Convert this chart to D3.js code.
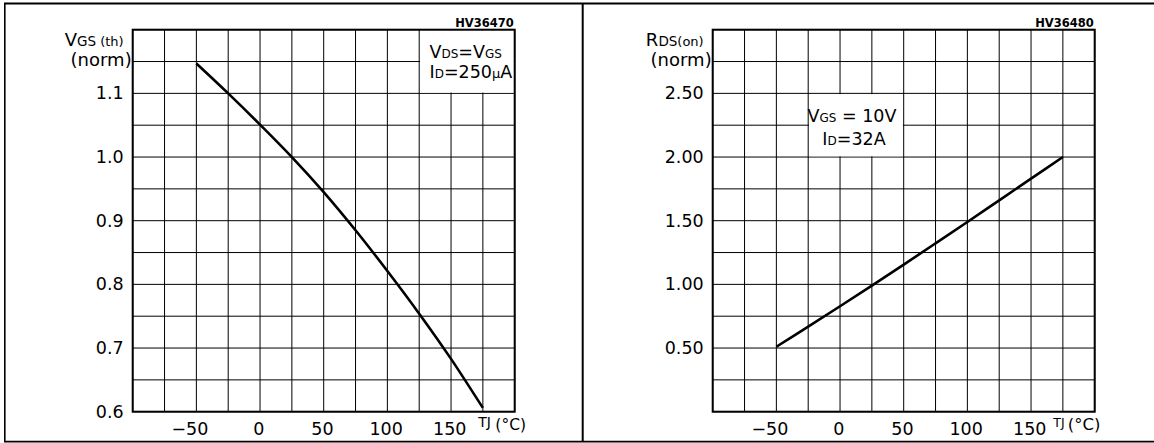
<!DOCTYPE html>
<html><head><meta charset="utf-8">
<script src="https://cdn.jsdelivr.net/npm/d3@7/dist/d3.min.js"></script>
<style>
html,body{margin:0;padding:0;background:#fff;}
svg{display:block;}
text{font-family:"DejaVu Sans",Verdana,sans-serif;fill:#000;}
</style></head>
<body>
<svg id="c" width="1154" height="443"></svg>
<script>
// ---- data ----
const tempDomain = [-100, 200];
const tempTicks = [-50, 0, 50, 100, 150];
const vgsDomain = [0.6, 1.2];
const vgsTicks = [0.6, 0.7, 0.8, 0.9, 1.0, 1.1];
const rdsDomain = [0, 3];
const rdsTicks = [0.5, 1.0, 1.5, 2.0, 2.5];
const vgsTemp   = [-50, -25, 0, 25, 50, 75, 100, 125, 150, 175];
const vgsValues = [1.147, 1.100, 1.051, 1.000, 0.945, 0.885, 0.821, 0.754, 0.683, 0.606];
const rdsTemp   = [-50, -25, 0, 25, 50, 75, 100, 125, 150, 175];
const rdsValues = [0.51, 0.668, 0.828, 0.99, 1.155, 1.322, 1.49, 1.66, 1.83, 2.0];
const leftCode = "HV36470";
const rightCode = "HV36480";

const svg = d3.select("#c");

// outer frame
svg.append("line").attr("x1",4).attr("x2",1154).attr("y1",3.6).attr("y2",3.6).attr("stroke","#000").attr("stroke-width",2);
svg.append("line").attr("x1",4.8).attr("x2",4.8).attr("y1",3).attr("y2",442).attr("stroke","#000").attr("stroke-width",1.6);
svg.append("line").attr("x1",4).attr("x2",1154).attr("y1",441.6).attr("y2",441.6).attr("stroke","#000").attr("stroke-width",1.6);
svg.append("line").attr("x1",582.7).attr("x2",582.7).attr("y1",3).attr("y2",442).attr("stroke","#000").attr("stroke-width",2);

function panel(o) {
  const g = svg.append("g");
  const x = d3.scaleLinear().domain(tempDomain).range([o.x0, o.x0 + 382]);
  const y = d3.scaleLinear().domain(o.yDomain).range([411.7, 29.7]);
  // grid
  const gx = d3.range(tempDomain[0], tempDomain[1] + 0.001, 25);
  const gy = d3.range(o.yDomain[0], o.yDomain[1] + 1e-6, o.yStep);
  g.selectAll("line.gx").data(gx).join("line").attr("class","gx")
    .attr("x1", d => x(d)).attr("x2", d => x(d)).attr("y1", y.range()[0]).attr("y2", y.range()[1])
    .attr("stroke","#000").attr("stroke-width",1);
  g.selectAll("line.gy").data(gy).join("line").attr("class","gy")
    .attr("y1", d => y(d)).attr("y2", d => y(d)).attr("x1", x.range()[0]).attr("x2", x.range()[1])
    .attr("stroke","#000").attr("stroke-width",1);
  // annotation box (hides grid)
  const bx0 = x(o.box[0]), bx1 = x(o.box[1]), by0 = y(o.box[3]), by1 = y(o.box[2]);
  g.append("rect").attr("x", bx0 + 0.8).attr("y", by0 + 0.8).attr("width", bx1 - bx0 - 1.6).attr("height", by1 - by0 - 1.6).attr("fill","#fff");
  // frame
  g.append("rect").attr("x", x.range()[0]).attr("y", y.range()[1]).attr("width", 382).attr("height", y.range()[0]-y.range()[1])
    .attr("fill","none").attr("stroke","#000").attr("stroke-width",2);
  // curve
  const line = d3.line().x(d => x(d[0])).y(d => y(d[1])).curve(d3.curveCatmullRom.alpha(0.5));
  g.append("path").datum(d3.zip(o.temps, o.values)).attr("d", line)
    .attr("fill","none").attr("stroke","#000").attr("stroke-width",2.6).attr("stroke-linejoin","round");
  // axes labels
  const ax = g.append("g").attr("transform", `translate(0,${y.range()[0]})`)
    .call(d3.axisBottom(x).tickValues(tempTicks).tickSize(0).tickPadding(11)
      .tickFormat(d => d < 0 ? "\u2212" + Math.abs(d) : String(d)));
  ax.select(".domain").remove();
  ax.selectAll("text").attr("font-family","DejaVu Sans").attr("font-size",17.5).attr("fill","#000")
    .attr("dx", d => d < 0 ? "-0.4em" : "-0.1em");
  const ay = g.append("g").attr("transform", `translate(${x.range()[0]},0)`)
    .call(d3.axisLeft(y).tickValues(o.yTicks).tickSize(0).tickPadding(9).tickFormat(d3.format(o.fmt)));
  ay.select(".domain").remove();
  ay.selectAll("text").attr("font-family","DejaVu Sans").attr("font-size",17.5).attr("fill","#000");
  // code label
  g.append("text").attr("x", x.range()[1] - 1).attr("y", 26.8).attr("text-anchor","end")
    .attr("font-size", 11.5).attr("font-weight","bold").text(o.code);
  // y title
  const t1 = g.append("text").attr("x", x.range()[0] - 9).attr("y", 46).attr("text-anchor","end");
  t1.append("tspan").attr("font-size",18).text(o.t1[0]);
  t1.append("tspan").attr("font-size",13.5).text(o.t1[1]);
  t1.append("tspan").attr("font-size",13).text(o.t1[2]);
  g.append("text").attr("x", x.range()[0] - 1).attr("y", 65.5).attr("text-anchor","end").attr("font-size",18).text("(norm)");
  // x title
  g.append("text").attr("x", x(175) + o.tjDx).attr("y", 427).attr("font-size",o.tjSize).text("TJ");
  g.append("text").attr("x", x(175) + o.cDx).attr("y", 429.5).attr("font-size",o.cSize).text("(°C)");
  return {x, y, g};
}

const L = panel({x0:132.7, yDomain: vgsDomain, yStep: 0.05, yTicks: vgsTicks, fmt: ".1f",
  temps: vgsTemp, values: vgsValues, box: [125, 200, 1.1, 1.2], code: leftCode, t1: ["V","GS"," (th)"],
  tjDx: -4.6, cDx: 12.5, tjSize: 14, cSize: 15.5});
const R = panel({x0:712.7, yDomain: rdsDomain, yStep: 0.25, yTicks: rdsTicks, fmt: ".2f",
  temps: rdsTemp, values: rdsValues, box: [-25, 50, 2.0, 2.5], code: rightCode, t1: ["R","DS","(on)"],
  tjDx: -9.5, cDx: 5, tjSize: 12.5, cSize: 16.5});

// annotations
function ann(g, x, y, anchor, parts) {
  const t = g.append("text").attr("x", x).attr("y", y).attr("text-anchor", anchor);
  parts.forEach(p => t.append("tspan").attr("font-size", p[1]).text(p[0]));
}
ann(L.g, 429.5, 57.5, "start", [["V",17.5],["DS",12],["=",17.5],["V",17.5],["GS",12]]);
ann(L.g, 429.5, 78, "start", [["I",17.5],["D",12],["=250",17.5],["\u03bc",13],["A",17.5]]);
ann(R.g, 852, 121.7, "middle", [["V",17.5],["GS",12],[" = 10V",17.5]]);
ann(R.g, 854, 145, "middle", [["I",17.5],["D",12],["=32A",17.5]]);
</script>
</body></html>
